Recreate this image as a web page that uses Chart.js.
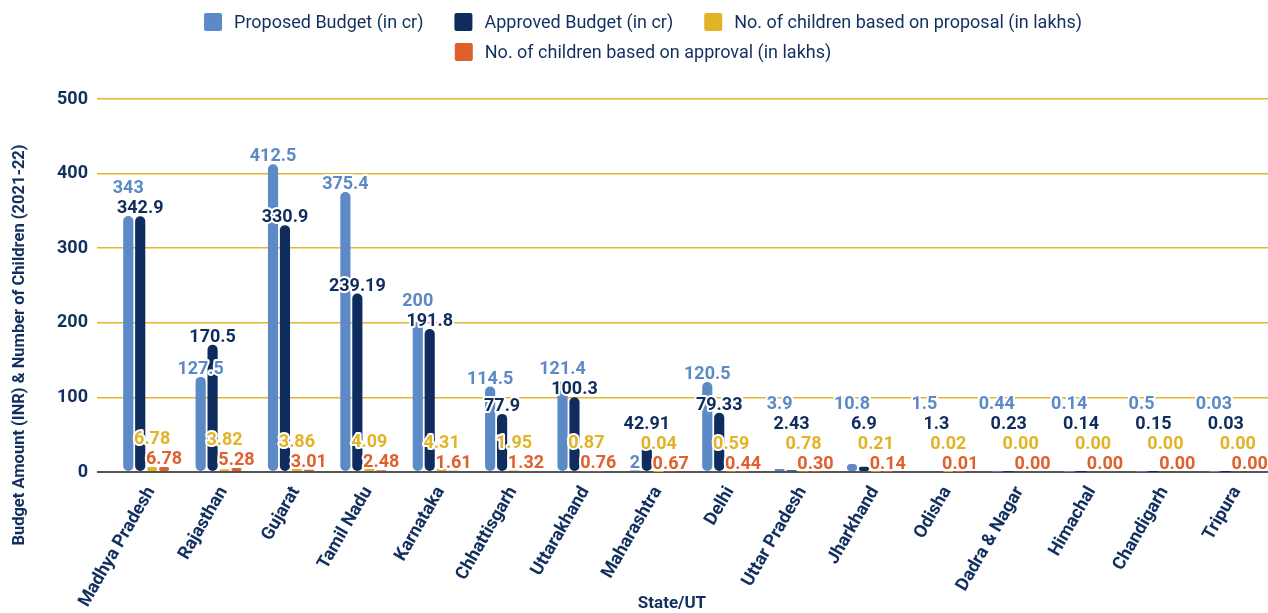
<!DOCTYPE html>
<html>
<head>
<meta charset="utf-8">
<script src="https://cdn.jsdelivr.net/npm/chart.js@4.4.1/dist/chart.umd.min.js"></script>
<style>
  html, body { margin: 0; padding: 0; background: #fff; }
  #wrap { width: 1268px; height: 613px; position: relative; }
</style>
</head>
<body>
<div id="wrap"><canvas id="budgetChart"></canvas></div>
<script>
const states = ['Madhya Pradesh', 'Rajasthan', 'Gujarat', 'Tamil Nadu', 'Karnataka', 'Chhattisgarh',
  'Uttarakhand', 'Maharashtra', 'Delhi', 'Uttar Pradesh', 'Jharkhand', 'Odisha',
  'Dadra & Nagar', 'Himachal', 'Chandigarh', 'Tripura'];
const proposedBudget = [343, 127.5, 412.5, 375.4, 200, 114.5, 121.4, 2, 120.5, 3.9, 10.8, 1.5, 0.44, 0.14, 0.5, 0.03];
const approvedBudget = [342.9, 170.5, 330.9, 239.19, 191.8, 77.9, 100.3, 42.91, 79.33, 2.43, 6.9, 1.3, 0.23, 0.14, 0.15, 0.03];
const childrenProposal = [6.78, 3.82, 3.86, 4.09, 4.31, 1.95, 0.87, 0.04, 0.59, 0.78, 0.21, 0.02, 0, 0, 0, 0];
const childrenApproval = [6.78, 5.28, 3.01, 2.48, 1.61, 1.32, 0.76, 0.67, 0.44, 0.30, 0.14, 0.01, 0, 0, 0, 0];
const yTicks = [0, 100, 200, 300, 400, 500];

const NAVY = '#12305f';
const FONT = 'Roboto';

// etiquetas de valores encima de cada barra, apiladas si se pisan
const barLabels = {
  id: 'barLabels',
  afterDatasetsDraw(chart) {
    const ctx = chart.ctx;
    const datasets = chart.data.datasets;
    ctx.save();
    ctx.font = 'bold 18px ' + FONT;
    ctx.textAlign = 'center';
    ctx.textBaseline = 'alphabetic';
    ctx.lineJoin = 'round';
    ctx.lineWidth = 4;
    ctx.strokeStyle = '#ffffff';
    for (let i = 0; i < chart.data.labels.length; i++) {
      const placed = [];
      for (let d = datasets.length - 1; d >= 0; d--) {
        const el = chart.getDatasetMeta(d).data[i];
        const txt = datasets[d].fmt(datasets[d].data[i]);
        const w = ctx.measureText(txt).width;
        let base = el.y - 3;
        let moved = true;
        while (moved) {
          moved = false;
          for (const p of placed) {
            const top = base - 17, bottom = base + 3;
            const hOverlap = el.x - w / 2 < p.right && el.x + w / 2 > p.left;
            const vOverlap = top < p.bottom && bottom > p.top;
            if (hOverlap && vOverlap) {
              base = p.top - 3;
              moved = true;
            }
          }
        }
        placed.push({ left: el.x - w / 2, right: el.x + w / 2, top: base - 17, bottom: base + 3, x: el.x, base, txt, color: datasets[d].backgroundColor });
      }
      for (const p of placed) {
        ctx.strokeText(p.txt, p.x, p.base);
        ctx.fillStyle = p.color;
        ctx.fillText(p.txt, p.x, p.base);
      }
    }
    ctx.restore();
  }
};

// leyenda en dos filas y titulos de los ejes
const legendRows = [[0, 1, 2], [3]];
const axisTitles = {
  id: 'axisTitles',
  afterDraw(chart) {
    const ctx = chart.ctx;
    const datasets = chart.data.datasets;
    ctx.save();
    ctx.font = '18px ' + FONT;
    ctx.textBaseline = 'middle';
    ctx.textAlign = 'left';
    legendRows.forEach((row, r) => {
      const widths = row.map(d => 30 + ctx.measureText(datasets[d].label).width);
      const total = widths.reduce((a, b) => a + b, 0) + 31 * (row.length - 1);
      let x = 643 - total / 2;
      const y = 22 + r * 30;
      row.forEach((d, k) => {
        ctx.fillStyle = datasets[d].backgroundColor;
        ctx.beginPath();
        ctx.roundRect(x, y - 9, 18, 18, 2);
        ctx.fill();
        ctx.fillStyle = NAVY;
        ctx.fillText(datasets[d].label, x + 30, y + 1);
        x += widths[k] + 31;
      });
    });

    ctx.font = 'bold 17px ' + FONT;
    ctx.fillStyle = NAVY;
    ctx.textAlign = 'center';
    ctx.fillText('State/UT', 672, 604);
    ctx.font = 'bold 16.5px ' + FONT;
    ctx.translate(20, 345);
    ctx.rotate(-Math.PI / 2);
    ctx.fillText('Budget Amount (INR) & Number of Children (2021-22)', 0, 0);
    ctx.restore();
  }
};

const raw = v => String(v);
const two = v => v.toFixed(2);

new Chart(document.getElementById('budgetChart').getContext('2d'), {
  type: 'bar',
  data: {
    labels: states,
    datasets: [
      { label: 'Proposed Budget (in cr)', data: proposedBudget, backgroundColor: '#5b8ac6', fmt: raw },
      { label: 'Approved Budget (in cr)', data: approvedBudget, backgroundColor: '#0f2c5e', fmt: raw },
      { label: 'No. of children based on proposal (in lakhs)', data: childrenProposal, backgroundColor: '#e2b425', fmt: two },
      { label: 'No. of children based on approval (in lakhs)', data: childrenApproval, backgroundColor: '#df5f2d', fmt: two }
    ]
  },
  options: {
    responsive: true,
    maintainAspectRatio: false,
    animation: false,
    layout: { padding: { top: 99, right: 0, bottom: 0, left: 0 } },
    datasets: {
      bar: {
        categoryPercentage: 0.66,
        barPercentage: 0.85,
        borderRadius: 5,
        borderSkipped: false
      }
    },
    plugins: {
      tooltip: { enabled: false },
      legend: { display: false }
    },
    scales: {
      x: {
        afterFit: s => { s.height = 141; },
        grid: { display: false },
        border: { color: '#555555', width: 2 },
        ticks: {
          maxRotation: 60,
          minRotation: 60,
          autoSkip: false,
          labelOffset: 5,
          color: NAVY,
          font: { family: FONT, size: 18, weight: 'bold' }
        }
      },
      y: {
        min: 0,
        max: 500,
        afterFit: s => { s.width = 110; },
        afterBuildTicks: s => { s.ticks = yTicks.map(v => ({ value: v })); },
        border: { display: false },
        grid: {
          color: c => c.tick.value === 0 ? '#555555' : '#e6b62c',
          lineWidth: c => c.tick.value === 0 ? 2 : 1.5,
          tickLength: 13
        },
        ticks: {
          padding: 9,
          color: NAVY,
          font: { family: FONT, size: 18, weight: 'bold' }
        }
      }
    }
  },
  plugins: [barLabels, axisTitles]
});
</script>
</body>
</html>
